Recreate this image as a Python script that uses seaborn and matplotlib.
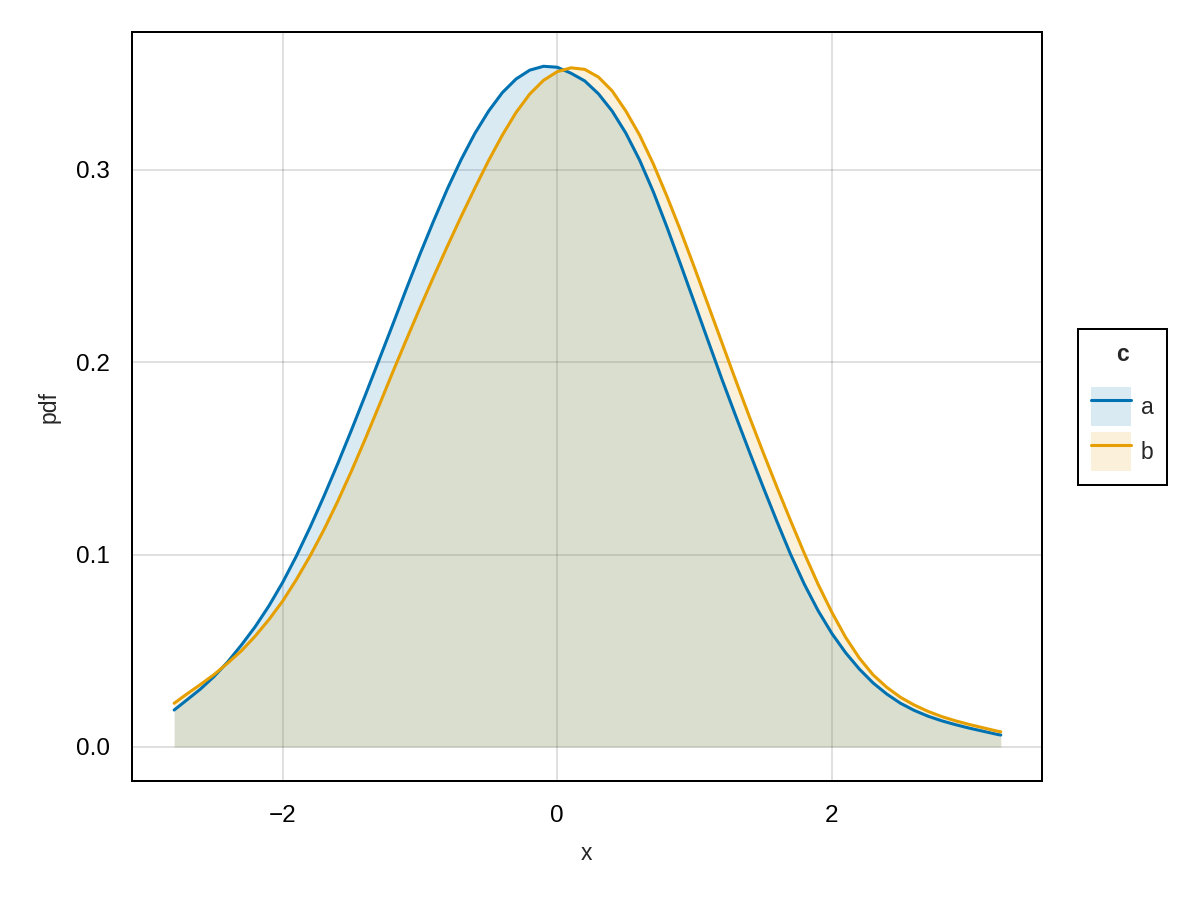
import numpy as np
import pandas as pd
import matplotlib
matplotlib.use("Agg")
import matplotlib.pyplot as plt
from matplotlib.patches import Patch
from matplotlib.lines import Line2D
from matplotlib.legend_handler import HandlerTuple
import seaborn as sns

x_vals = [-2.79, -2.7, -2.6, -2.5, -2.4, -2.3, -2.2, -2.1, -2.0, -1.9,
          -1.8, -1.7, -1.6, -1.5, -1.4, -1.3, -1.2, -1.1, -1.0, -0.9,
          -0.8, -0.7, -0.6, -0.5, -0.4, -0.3, -0.2, -0.1, 0.0, 0.1,
          0.2, 0.3, 0.4, 0.5, 0.6, 0.7, 0.8, 0.9, 1.0, 1.1,
          1.2, 1.3, 1.4, 1.5, 1.6, 1.7, 1.8, 1.9, 2.0, 2.1,
          2.2, 2.3, 2.4, 2.5, 2.6, 2.7, 2.8, 2.9, 3.0, 3.1,
          3.2, 3.23]

pdf_a = [0.0192, 0.0243, 0.0300, 0.0366, 0.0442, 0.0530, 0.0625, 0.0733, 0.0855, 0.0992,
         0.1142, 0.1302, 0.1470, 0.1645, 0.1825, 0.2008, 0.2192, 0.2379, 0.2561, 0.2735,
         0.2901, 0.3053, 0.3189, 0.3305, 0.3401, 0.3472, 0.3518, 0.3538, 0.3533, 0.3502,
         0.3462, 0.3395, 0.3305, 0.3190, 0.3050, 0.2885, 0.2700, 0.2505, 0.2307, 0.2108,
         0.1910, 0.1720, 0.1533, 0.1350, 0.1172, 0.1000, 0.0845, 0.0708, 0.0590, 0.0490,
         0.0405, 0.0333, 0.0275, 0.0227, 0.0190, 0.0160, 0.0136, 0.0116, 0.0098, 0.0082,
         0.0066, 0.0062]

pdf_b = [0.0227, 0.0274, 0.0324, 0.0376, 0.0436, 0.0500, 0.0576, 0.0662, 0.0758, 0.0870,
         0.0993, 0.1128, 0.1275, 0.1432, 0.1598, 0.1770, 0.1945, 0.2115, 0.2282, 0.2445,
         0.2603, 0.2757, 0.2905, 0.3048, 0.3180, 0.3298, 0.3394, 0.3465, 0.3510, 0.3530,
         0.3522, 0.3482, 0.3410, 0.3305, 0.3180, 0.3030, 0.2860, 0.2680, 0.2490, 0.2295,
         0.2100, 0.1905, 0.1715, 0.1530, 0.1350, 0.1175, 0.1005, 0.0845, 0.0700, 0.0570,
         0.0462, 0.0375, 0.0310, 0.0258, 0.0218, 0.0185, 0.0158, 0.0136, 0.0117, 0.0100,
         0.0083, 0.0079]

groups = ["a", "b"]
colors = {"a": "#0072B2", "b": "#E69F00"}

df = pd.concat([
    pd.DataFrame({"x": x_vals, "pdf": pdf_a, "c": "a"}),
    pd.DataFrame({"x": x_vals, "pdf": pdf_b, "c": "b"}),
])

sns.set_style("white")
plt.rcParams["font.family"] = ["Liberation Sans", "DejaVu Sans"]
plt.rcParams["font.size"] = 16.5

fig = plt.figure(figsize=(12, 9), dpi=100)
ax = fig.add_axes([0.11, 0.1322, 0.7583, 0.8322])

# fill then line per group, so b's fill sits over a's line
for g in groups:
    sub = df[df["c"] == g]
    ax.fill_between(sub["x"], sub["pdf"], color=colors[g], alpha=0.15, lw=0)
    sns.lineplot(data=sub, x="x", y="pdf", color=colors[g], lw=2.2, ax=ax,
                 legend=False, sort=False)

ax.set_xlim(-3.097, 3.53)
ax.set_ylim(-0.0177, 0.3716)
ax.set_xticks([-2, 0, 2])
ax.set_yticks([0.0, 0.1, 0.2, 0.3])
ax.set_yticklabels(["0.0", "0.1", "0.2", "0.3"])

ax.grid(True, color="black", alpha=0.12, lw=1.44)
ax.set_axisbelow(True)
for s in ax.spines.values():
    s.set_visible(True)
    s.set_color("black")
    s.set_linewidth(1.44)
ax.tick_params(axis="both", direction="out", length=7.2, width=1.44,
               colors="black", labelsize=17.5)
ax.tick_params(axis="x", pad=10)
ax.tick_params(axis="y", pad=8.5)

ax.set_xlabel("x", fontsize=16.5, labelpad=11)
ax.set_ylabel("pdf", fontsize=16.5, labelpad=11)

handles = [(Patch(facecolor=colors[g], alpha=0.15, lw=0),
            Line2D([], [], color=colors[g], lw=2.2)) for g in groups]
leg = fig.legend(handles, groups, title="c",
                 handler_map={tuple: HandlerTuple(ndivide=1)},
                 loc="center left", bbox_to_anchor=(0.898, 0.5478),
                 fancybox=False, edgecolor="black", framealpha=1,
                 handlelength=1.75, handleheight=2.26, handletextpad=0.4,
                 borderpad=0.6, labelspacing=0.25, borderaxespad=0,
                 fontsize=16.5)
leg.get_title().set_fontweight("bold")
leg.get_title().set_fontsize(16.5)
leg.get_frame().set_linewidth(1.44)
leg._legend_box.sep = 15  # extra room under the title

fig.savefig("out.png", dpi=100)
